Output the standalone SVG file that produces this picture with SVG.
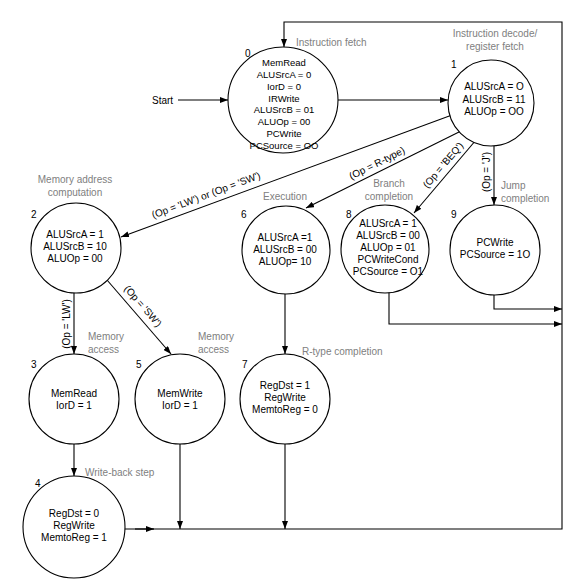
<svg xmlns="http://www.w3.org/2000/svg" width="581" height="583" viewBox="0 0 581 583">
<style>
.st{fill:#fff;stroke:#000;stroke-width:1.1}
.t{font-family:"Liberation Sans",Arial,sans-serif;font-size:10px;fill:#000;text-anchor:middle}
.t0{font-family:"Liberation Sans",Arial,sans-serif;font-size:9.5px;fill:#000;text-anchor:middle}
.n{font-family:"Liberation Sans",Arial,sans-serif;font-size:10px;fill:#000}
.g{font-family:"Liberation Sans",Arial,sans-serif;font-size:10px;fill:#808080}
.gm{font-family:"Liberation Sans",Arial,sans-serif;font-size:10px;fill:#808080;text-anchor:middle}
.e{font-family:"Liberation Sans",Arial,sans-serif;font-size:10px;fill:#000;text-anchor:middle}
.c{fill:none;stroke:#000;stroke-width:1.1}
</style>
<defs>
<marker id="ah" viewBox="0 0 8 6" refX="8" refY="3" markerWidth="8" markerHeight="6" markerUnits="userSpaceOnUse" orient="auto">
<path d="M0,0 L8,3 L0,6 z" fill="#000"/>
</marker>
</defs>
<rect width="581" height="583" fill="#fff"/>

<g id="connectors">
<line class="c" x1="178" y1="100" x2="228" y2="100" marker-end="url(#ah)"/>
<line class="c" x1="338" y1="100" x2="448" y2="100" marker-end="url(#ah)"/>
<path class="c" d="M125,529 H562 V22 H284 V47" marker-end="url(#ah)"/>
<line class="c" x1="135" y1="529" x2="154" y2="529" marker-end="url(#ah)"/>
<line class="c" x1="452" y1="115" x2="121" y2="237" marker-end="url(#ah)"/>
<line class="c" x1="461" y1="131" x2="306" y2="208" marker-end="url(#ah)"/>
<line class="c" x1="476" y1="140" x2="414" y2="213" marker-end="url(#ah)"/>
<line class="c" x1="494" y1="146" x2="494" y2="205" marker-end="url(#ah)"/>
<line class="c" x1="74" y1="293" x2="74" y2="354" marker-end="url(#ah)"/>
<line class="c" x1="107" y1="280" x2="171" y2="354" marker-end="url(#ah)"/>
<line class="c" x1="74" y1="444" x2="74" y2="476" marker-end="url(#ah)"/>
<line class="c" x1="180" y1="444" x2="180" y2="529" marker-end="url(#ah)"/>
<line class="c" x1="285" y1="294" x2="285" y2="354" marker-end="url(#ah)"/>
<line class="c" x1="285" y1="444" x2="285" y2="529" marker-end="url(#ah)"/>
<path class="c" d="M389,292 V324 H562" marker-end="url(#ah)"/>
<path class="c" d="M494,295 V309 H562" marker-end="url(#ah)"/>
<text class="n" x="152" y="104">Start</text>
<text class="e" transform="translate(206,195) rotate(-20.6)" y="3.5">(Op = 'LW') or (Op = 'SW')</text>
<text class="e" transform="translate(377,163) rotate(-26.4)" y="3.5">(Op = R-type)</text>
<text class="e" transform="translate(443,165) rotate(-50)" y="3.5">(Op = 'BEQ')</text>
<text class="e" transform="translate(486,172) rotate(-90)" y="3.5">(Op = 'J')</text>
<text class="e" transform="translate(66,324) rotate(-90)" y="3.5">(Op = 'LW')</text>
<text class="e" transform="translate(143,306) rotate(49)" y="3.5">(Op = 'SW')</text>
</g>

<g id="s0">
<ellipse class="st" cx="283" cy="100" rx="55" ry="53"/>
<text class="n" x="245" y="57">0</text>
<text class="g" x="296" y="46">Instruction fetch</text>
<text class="t0" x="284" y="66">MemRead</text>
<text class="t0" x="284" y="78">ALUSrcA = 0</text>
<text class="t0" x="284" y="90">IorD = 0</text>
<text class="t0" x="284" y="102">IRWrite</text>
<text class="t0" x="284" y="113">ALUSrcB = 01</text>
<text class="t0" x="284" y="125">ALUOp = 00</text>
<text class="t0" x="284" y="137">PCWrite</text>
<text class="t0" x="284" y="149">PCSource = OO</text>
</g>

<g id="s1">
<circle class="st" cx="491" cy="103" r="43"/>
<text class="n" x="451" y="68">1</text>
<text class="gm" x="495" y="37">Instruction decode/</text>
<text class="gm" x="495" y="50">register fetch</text>
<text class="t" x="494" y="90">ALUSrcA = O</text>
<text class="t" x="494" y="103">ALUSrcB = 11</text>
<text class="t" x="494" y="115">ALUOp = OO</text>
</g>

<g id="s2">
<circle class="st" cx="76" cy="248" r="45"/>
<text class="n" x="31" y="218">2</text>
<text class="gm" x="75" y="183">Memory address</text>
<text class="gm" x="75" y="196">computation</text>
<text class="t" x="75" y="238">ALUSrcA = 1</text>
<text class="t" x="75" y="250">ALUSrcB = 10</text>
<text class="t" x="75" y="262">ALUOp = 00</text>
</g>

<g id="s6">
<circle class="st" cx="286" cy="250" r="44"/>
<text class="n" x="241" y="218">6</text>
<text class="gm" x="285" y="200">Execution</text>
<text class="t" x="285" y="241">ALUSrcA =1</text>
<text class="t" x="285" y="253">ALUSrcB = 00</text>
<text class="t" x="285" y="265">ALUOp= 10</text>
</g>

<g id="s8">
<circle class="st" cx="385" cy="249" r="44"/>
<text class="n" x="346" y="218">8</text>
<text class="gm" x="389" y="187">Branch</text>
<text class="gm" x="389" y="200">completion</text>
<text class="t" x="388" y="227">ALUSrcA = 1</text>
<text class="t" x="388" y="239">ALUSrcB = 00</text>
<text class="t" x="388" y="251">ALUOp = 01</text>
<text class="t" x="388" y="263">PCWriteCond</text>
<text class="t" x="388" y="275">PCSource = O1</text>
</g>

<g id="s9">
<circle class="st" cx="495" cy="250" r="45"/>
<text class="n" x="451" y="218">9</text>
<text class="g" x="501" y="189">Jump</text>
<text class="g" x="501" y="202">completion</text>
<text class="t" x="495" y="246">PCWrite</text>
<text class="t" x="495" y="258">PCSource = 1O</text>
</g>

<g id="s3">
<circle class="st" cx="74" cy="399" r="45"/>
<text class="n" x="31" y="368">3</text>
<text class="g" x="88" y="340">Memory</text>
<text class="g" x="88" y="353">access</text>
<text class="t" x="74" y="397">MemRead</text>
<text class="t" x="74" y="409">IorD = 1</text>
</g>

<g id="s5">
<circle class="st" cx="180" cy="399" r="45"/>
<text class="n" x="136" y="368">5</text>
<text class="g" x="198" y="340">Memory</text>
<text class="g" x="198" y="353">access</text>
<text class="t" x="180" y="397">MemWrite</text>
<text class="t" x="180" y="409">IorD = 1</text>
</g>

<g id="s7">
<circle class="st" cx="285" cy="399" r="45"/>
<text class="n" x="242" y="368">7</text>
<text class="g" x="302" y="355">R-type completion</text>
<text class="t" x="285" y="389">RegDst = 1</text>
<text class="t" x="285" y="401">RegWrite</text>
<text class="t" x="285" y="413">MemtoReg = 0</text>
</g>

<g id="s4">
<circle class="st" cx="74" cy="527" r="51"/>
<text class="n" x="35" y="487">4</text>
<text class="g" x="85" y="476">Write-back step</text>
<text class="t" x="74" y="517">RegDst = 0</text>
<text class="t" x="74" y="529">RegWrite</text>
<text class="t" x="74" y="541">MemtoReg = 1</text>
</g>
</svg>
